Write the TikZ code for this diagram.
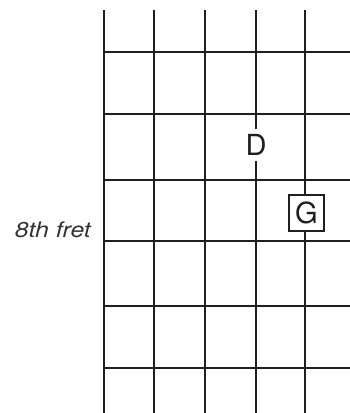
\documentclass[tikz,border=0pt]{standalone}
\usepackage{fontspec}
\usepackage{graphicx}
\setmainfont{TeX Gyre Heros}
\begin{document}
\begin{tikzpicture}[x=1pt,y=-1pt,
  gridline/.style={line width=2.2pt, draw=black!88},
  notelabel/.style={font=\fontsize{29}{29}\selectfont, text=black!88},
  boxnote/.style={notelabel, draw=black!88, line width=1.4pt, fill=white,
    minimum width=35pt, minimum height=36pt, inner sep=0pt},
  plainnote/.style={notelabel, fill=white, inner sep=0pt, minimum height=32pt},
  fretlabel/.style={font=\fontsize{21.5}{21.5}\selectfont\itshape, text=black!80, inner sep=0pt}]
\useasboundingbox (0,0) rectangle (350,413);
\foreach \x [count=\i] in {104,154,205,256,305}{
  \coordinate (st\i) at (\x,10);
  \coordinate (sb\i) at (\x,413);
  \draw[gridline] (st\i) -- (sb\i);
}
\foreach \y [count=\j] in {52,114,180,241,306,368}{
  \coordinate (fl\j) at (104,\y);
  \coordinate (fr\j) at (350,\y);
  \draw[gridline] (fl\j) -- (fr\j);
}
\node[plainnote] (D) at (256,145) {D};
\node[boxnote] (G) at (306.5,213) {G};
\node[fretlabel, anchor=base east] (fret) at (91,237.5) {\scalebox{1.15}[1]{8th fret}};
\end{tikzpicture}
\end{document}
